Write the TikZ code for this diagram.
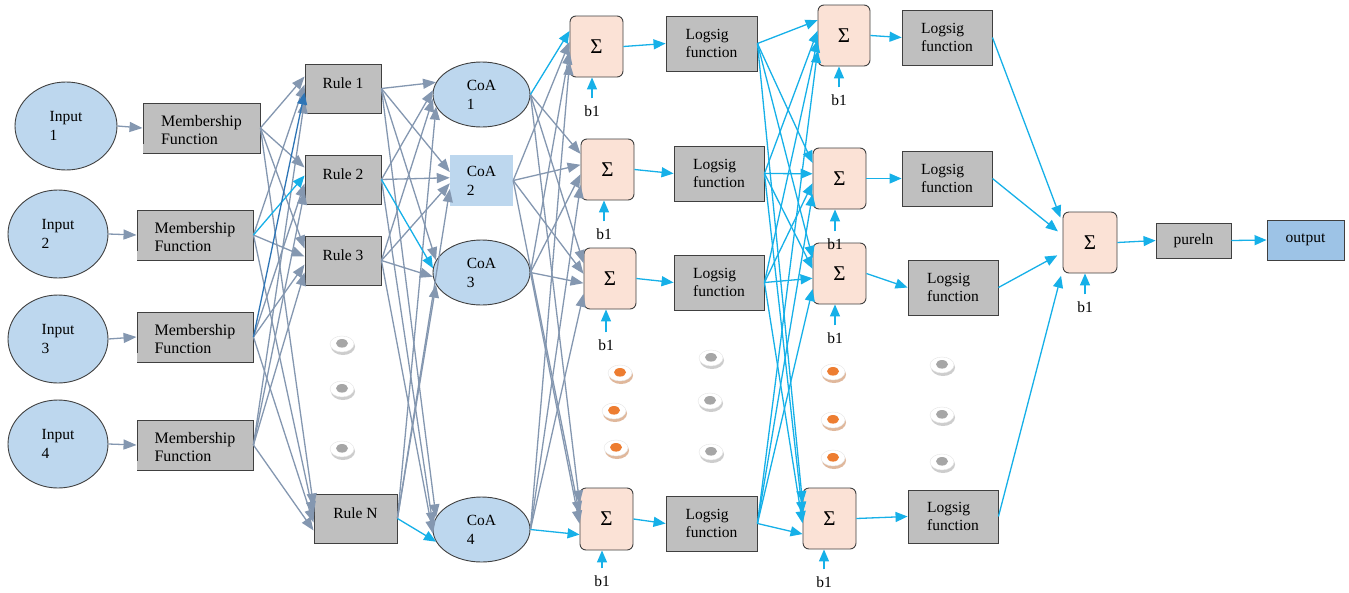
\documentclass[tikz,border=0pt]{standalone}
\usepackage{fontspec}
\setmainfont{Liberation Serif}
\usetikzlibrary{arrows.meta,shapes.geometric}
\definecolor{gline}{RGB}{132,151,176}
\definecolor{cline}{RGB}{22,176,232}
\definecolor{bline}{RGB}{46,117,182}
\definecolor{inblue}{RGB}{189,215,238}
\definecolor{boxgray}{RGB}{191,191,191}
\definecolor{peach}{RGB}{251,226,214}
\definecolor{outblue}{RGB}{157,195,230}
\definecolor{bordr}{RGB}{64,64,64}
\definecolor{oshadow}{RGB}{224,184,156}
\definecolor{odotc}{RGB}{237,125,49}
\definecolor{gshadow}{RGB}{205,205,205}
\definecolor{gdotc}{RGB}{166,166,166}
\tikzset{
  every node/.style={font=\fontsize{15.5}{19}\selectfont},
  inell/.style={ellipse, draw=bordr, line width=0.9pt, fill=inblue, minimum width=100pt, minimum height=88pt, inner sep=0pt, align=left},
  coaell/.style={ellipse, draw=bordr, line width=0.9pt, fill=inblue, minimum width=97pt, minimum height=65pt, inner sep=0pt, align=left},
  gbox/.style={rectangle, draw=bordr, line width=0.9pt, fill=boxgray, inner sep=0pt, align=left},
  mfbox/.style={gbox, minimum width=116pt, minimum height=50pt, font=\fontsize{16}{18}\selectfont},
  rulebox/.style={gbox, minimum width=76pt, minimum height=49pt, text depth=10.6pt},
  lsbox/.style={gbox, minimum width=90pt, minimum height=55pt, font=\fontsize{15.5}{18}\selectfont},
  sig/.style={rectangle, rounded corners=6pt, draw=bordr, line width=0.9pt, fill=peach, minimum width=53pt, minimum height=61pt, inner sep=0pt, font=\fontsize{21}{22}\selectfont},
  blab/.style={inner sep=0pt},
  garrow/.style={draw=gline, line width=1.3pt, -{Triangle[length=13pt,width=10pt]}},
  carrow/.style={draw=cline, line width=1.3pt, -{Triangle[length=12pt,width=10pt]}},
  barrow/.style={draw=bline, line width=1.3pt, -{Triangle[length=12pt,width=10pt]}},
  odot/.pic={\fill[oshadow] (1,2.5) ellipse (12 and 8.5);
             \fill[white] (0,0) ellipse (12 and 8);
             \draw[black!10, line width=0.4pt] (0,0) ellipse (12 and 8);
             \fill[odotc] (0,-0.7) ellipse (6 and 4.3);},
  gdot/.pic={\fill[gshadow] (1,2.5) ellipse (12 and 8.5);
             \fill[white] (0,0) ellipse (12 and 8);
             \draw[black!10, line width=0.4pt] (0,0) ellipse (12 and 8);
             \fill[gdotc] (0,-0.7) ellipse (6 and 4.3);}
}
\begin{document}
\begin{tikzpicture}[x=1pt,y=-1pt]
\useasboundingbox[fill=white] (0,0) rectangle (1349,592);

% inputs
\node[inell, minimum width=102pt] (in1) at (66,126) {Input\\1};
\node[inell] (in2) at (58,234) {Input\\2};
\node[inell] (in3) at (58,339) {Input\\3};
\node[inell] (in4) at (58,444) {Input\\4};

% membership function boxes
\node[mfbox, minimum width=117pt] (mf1) at (201.5,128) {\rule{0pt}{16pt}Membership\\Function};
\node[mfbox] (mf2) at (195,235) {\rule{0pt}{16pt}Membership\\Function};
\node[mfbox] (mf3) at (195,337) {\rule{0pt}{16pt}Membership\\Function};
\node[mfbox] (mf4) at (195,445) {\rule{0pt}{16pt}Membership\\Function};
\foreach \m in {mf1,mf2,mf3,mf4}
  \fill[boxgray] ([shift={(0.6pt,9pt)}]\m.south west) rectangle ([shift={(-0.6pt,0.6pt)}]\m.south east);

% rules
\node[rulebox] (r1) at (343,88.5) {Rule 1};
\node[rulebox] (r2) at (343,179.5) {Rule 2};
\node[rulebox] (r3) at (343,260.5) {Rule 3};
\node[rulebox, minimum width=83pt] (rN) at (355.5,518.5) {Rule N};

% CoA
\node[coaell] (coa1) at (481.5,94.5) {CoA\\1};
\node[rectangle, fill=inblue, minimum width=63pt, minimum height=51pt, inner sep=0pt, align=left] (coa2) at (481.5,180.5) {CoA\\2};
\node[coaell] (coa3) at (481.5,272.5) {CoA\\3};
\node[coaell] (coa4) at (481.5,529.5) {CoA\\4};

% first sigma column
\node[sig] (s1) at (596.5,46.5) {Σ};
\node[sig] (s2) at (607.5,169.5) {Σ};
\node[sig, minimum width=52pt] (s3) at (610,278.5) {Σ};
\node[sig, minimum height=62pt] (s4) at (606.5,519) {Σ};

% first logsig column
\node[lsbox, minimum width=91pt] (l1) at (711.5,43.5) {Logsig\\function};
\node[lsbox] (l2) at (719,173.5) {Logsig\\function};
\node[lsbox] (l3) at (719,282.5) {Logsig\\function};
\node[lsbox, minimum width=91pt] (l4) at (711.5,523.5) {Logsig\\function};

% second sigma column
\node[sig, minimum width=52pt] (t1) at (844,35.5) {Σ};
\node[sig] (t2) at (839.5,178.5) {Σ};
\node[sig] (t3) at (839.5,273.5) {Σ};
\node[sig] (t4) at (829.5,518.5) {Σ};

% second logsig column
\node[lsbox] (m1) at (947,37.5) {Logsig\\function};
\node[lsbox] (m2) at (947,178.5) {Logsig\\function};
\node[lsbox] (m3) at (953,287.5) {Logsig\\function};
\node[lsbox, minimum height=53pt] (m4) at (953,516.5) {Logsig\\function};

% output part
\node[sig, minimum width=54pt] (fs) at (1090,242.5) {Σ};
\node[gbox, minimum width=75pt, minimum height=35pt] (pl) at (1193.5,240.5) {pureln};
\node[gbox, fill=outblue, minimum width=77pt, minimum height=40pt] (out) at (1305.5,240) {output};

% bias labels
\node[blab] (b1s1) at (592,111) {b1};
\node[blab] (b1s2) at (604,234) {b1};
\node[blab] (b1s3) at (606,345) {b1};
\node[blab] (b1s4) at (602,581) {b1};
\node[blab] (b1t1) at (839,100) {b1};
\node[blab] (b1t2) at (835,244) {b1};
\node[blab] (b1t3) at (835,338) {b1};
\node[blab] (b1t4) at (824,582) {b1};
\node[blab] (b1fs) at (1085,307) {b1};

% ellipsis marks
\pic at (342,344) {gdot}; \pic at (342,389) {gdot}; \pic at (342,449) {gdot};
\pic at (620,373) {odot}; \pic at (614,411) {odot}; \pic at (616,448) {odot};
\pic at (711,358) {gdot}; \pic at (710,401) {gdot}; \pic at (711,452) {gdot};
\pic at (833,372) {odot}; \pic at (833,420) {odot}; \pic at (833,458) {odot};
\pic at (942,365) {gdot}; \pic at (942,415) {gdot}; \pic at (942,462) {gdot};

% input -> membership
\foreach \i in {1,2,3,4}
  \draw[garrow] (in\i.east) -- (mf\i.west);

% membership -> rules
\foreach \s/\t/\o in {mf1/r1/12, mf1/r2/12, mf1/r3/12, mf1/rN/12,
                      mf2/r1/4, mf2/r3/4, mf2/rN/4,
                      mf3/r2/-4, mf3/r3/-4, mf3/rN/-4,
                      mf4/r1/-12, mf4/r2/-12, mf4/r3/-12, mf4/rN/-12}
  \draw[garrow] (\s.east) -- ([yshift=\o pt]\t.west);
\draw[carrow] (mf2.east) -- ([yshift=4pt]r2.west);
\draw[barrow] (mf3.east) -- ([yshift=-4pt]r1.west);

% rules -> CoA
\foreach \s/\t/\a in {r1/coa1/165, r1/coa2/165, r1/coa3/165, r1/coa4/165,
                      r2/coa1/175, r2/coa2/175, r2/coa4/175,
                      r3/coa1/185, r3/coa2/185, r3/coa3/185, r3/coa4/185,
                      rN/coa1/195, rN/coa2/195, rN/coa3/195}
  \draw[garrow] (\s.east) -- (\t.\a);
\draw[carrow] (r2.east) -- (coa3.175);
\draw[carrow] (rN.east) -- (coa4.195);

% CoA -> first sigma column
\foreach \s/\t/\a in {coa1/s2/150, coa1/s3/150, coa1/s4/150,
                      coa2/s1/170, coa2/s2/170, coa2/s3/170, coa2/s4/170,
                      coa3/s1/190, coa3/s2/190, coa3/s3/190, coa3/s4/190,
                      coa4/s1/210, coa4/s2/210, coa4/s3/210}
  \draw[garrow] (\s.east) -- (\t.\a);
\draw[carrow] (coa1.east) -- (s1.150);
\draw[carrow] (coa4.east) -- (s4.210);

% sigma -> logsig (first column)
\foreach \i in {1,2,3,4}
  \draw[carrow] (s\i.east) -- (l\i.west);

% logsig -> second sigma column
\foreach \i/\a in {1/150, 2/170, 3/190, 4/210}
  \foreach \j in {1,2,3,4}
    \draw[carrow] (l\i.east) -- (t\j.\a);

% sigma -> logsig (second column)
\foreach \i in {1,2,3,4}
  \draw[carrow] (t\i.east) -- (m\i.west);

% logsig -> final sigma
\draw[carrow, shorten >=6pt] (m1.east) -- (fs.145);
\draw[carrow, shorten >=6pt] (m2.east) -- (fs.165);
\draw[carrow, shorten >=6pt] (m3.east) -- (fs.200);
\draw[carrow, shorten >=6pt] (m4.east) -- (fs.225);

% final chain
\draw[carrow] (fs.east) -- (pl.west);
\draw[carrow] (pl.east) -- (out.west);

% bias arrows (vertical)
\foreach \b/\n in {b1s1/s1, b1s2/s2, b1s3/s3, b1s4/s4, b1t1/t1, b1t2/t2, b1t3/t3, b1t4/t4, b1fs/fs}
  \draw[carrow] ([yshift=7pt]\b.north) -- (\b.north |- \n.south);
\end{tikzpicture}
\end{document}
